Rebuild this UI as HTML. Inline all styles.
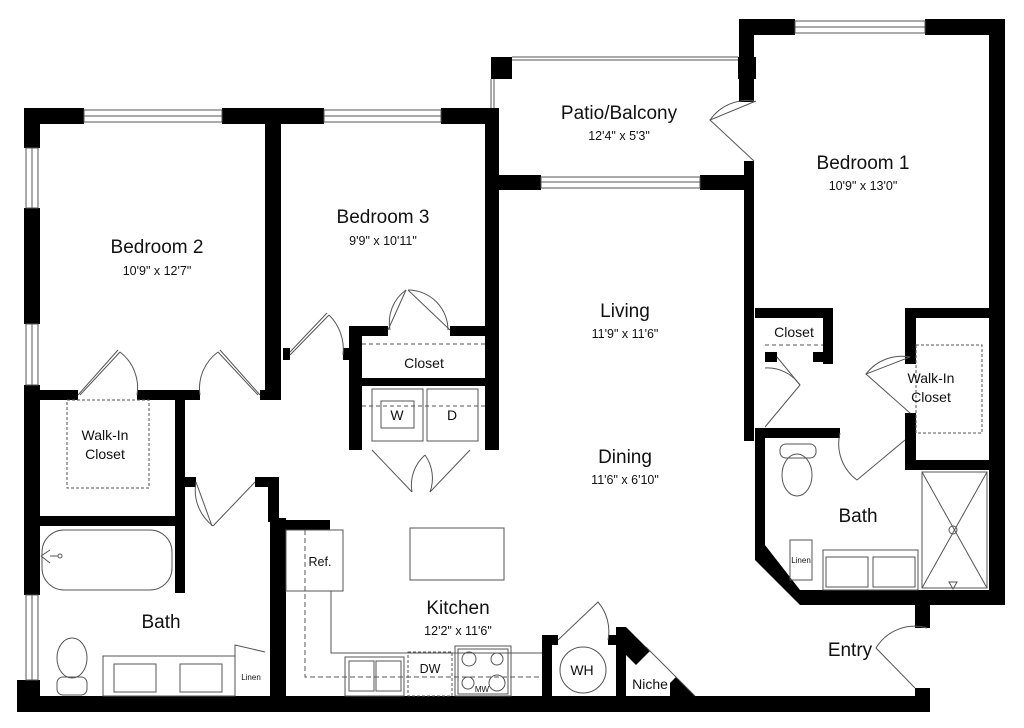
<!DOCTYPE html>
<html><head><meta charset="utf-8"><style>
html,body{margin:0;padding:0;background:#fff;}
svg{display:block;}
text{font-family:"Liberation Sans",sans-serif;fill:#111;text-anchor:middle;}
.t{font-size:19px}.s{font-size:12.5px}.m{font-size:14px}.x{font-size:8px}
</style></head><body>
<svg width="1024" height="728" viewBox="0 0 1024 728" xmlns="http://www.w3.org/2000/svg">
<rect width="1024" height="728" fill="#fff"/>
<g fill="#000">
<rect x="24" y="108" width="60" height="16"/>
<rect x="222" y="108" width="102" height="16"/>
<rect x="441" y="108" width="58" height="16"/>
<rect x="24" y="108" width="16" height="40"/>
<rect x="24" y="208" width="16" height="116"/>
<rect x="24" y="385" width="16" height="210"/>
<rect x="17" y="680" width="23" height="32"/>
<rect x="17" y="696" width="913" height="16"/>
<rect x="265" y="124" width="16" height="276"/>
<rect x="40" y="390" width="38" height="10"/>
<rect x="137" y="390" width="63" height="10"/>
<rect x="260" y="390" width="21" height="10"/>
<rect x="175" y="400" width="10" height="193"/>
<rect x="40" y="516" width="135" height="10"/>
<rect x="185" y="477" width="11" height="10"/>
<rect x="255" y="477" width="24" height="10"/>
<rect x="268" y="477" width="11" height="45"/>
<rect x="270" y="518" width="16" height="180"/>
<rect x="286" y="520" width="44" height="10"/>
<rect x="485" y="108" width="14" height="342"/>
<rect x="349" y="326" width="13" height="124"/>
<rect x="349" y="326" width="39" height="10"/>
<rect x="450" y="326" width="47" height="10"/>
<rect x="362" y="378" width="123" height="8"/>
<rect x="283" y="348" width="7" height="12"/>
<rect x="343" y="348" width="7" height="12"/>
<rect x="491" y="57" width="21" height="22"/>
<rect x="738" y="57" width="18" height="22"/>
<rect x="485" y="175" width="56" height="15"/>
<rect x="700" y="175" width="54" height="15"/>
<rect x="739" y="19" width="15" height="83"/>
<rect x="739" y="19" width="56" height="16"/>
<rect x="925" y="19" width="80" height="16"/>
<rect x="989" y="19" width="16" height="586"/>
<rect x="744" y="161" width="10" height="280"/>
<rect x="755" y="308" width="78" height="10"/>
<rect x="823" y="308" width="10" height="56"/>
<rect x="765" y="352" width="12" height="10"/>
<rect x="813" y="352" width="20" height="10"/>
<rect x="905" y="308" width="100" height="10"/>
<rect x="905" y="308" width="11" height="56"/>
<rect x="905" y="413" width="11" height="57"/>
<rect x="905" y="460" width="100" height="10"/>
<rect x="755" y="428" width="85" height="10"/>
<rect x="755" y="428" width="10" height="120"/>
<polygon points="755,545 765,545 800,590 1005,590 1005,605 800,605 755,560"/>
<rect x="915" y="600" width="15" height="28"/>
<rect x="915" y="688" width="15" height="24"/>
<rect x="542" y="635" width="10" height="62"/>
<rect x="552" y="635" width="6" height="10"/>
<rect x="608" y="635" width="8" height="10"/>
<rect x="616" y="627" width="10" height="70"/>
<polygon points="626,627 650,651 636,665 626,655"/>
<polygon points="676,677 695,696 670,696 670,683"/>
</g>
<g fill="none" stroke="#555" stroke-width="1">
<rect x="84" y="110" width="138" height="12"/><line x1="84" y1="116" x2="222" y2="116"/>
<rect x="324" y="110" width="117" height="12"/><line x1="324" y1="116" x2="441" y2="116"/>
<rect x="26" y="148" width="12" height="60"/><line x1="32" y1="148" x2="32" y2="208"/>
<rect x="26" y="324" width="12" height="61"/><line x1="32" y1="324" x2="32" y2="385"/>
<rect x="26" y="595" width="12" height="85"/><line x1="32" y1="595" x2="32" y2="680"/>
<rect x="541" y="177" width="159" height="11"/><line x1="541" y1="182" x2="700" y2="182"/>
<rect x="795" y="21" width="130" height="12"/><line x1="795" y1="27" x2="925" y2="27"/>
<line x1="512" y1="57" x2="738" y2="57"/><line x1="512" y1="60" x2="738" y2="60"/>
<line x1="491" y1="79" x2="491" y2="108"/><line x1="494" y1="79" x2="494" y2="108"/>
<path d="M80,395 L120,352 M78,395 L118,350"/><path d="M120,352 A45,45 0 0 1 137,395"/>
<path d="M258,395 L218,352 M260,395 L220,350"/><path d="M218,352 A45,45 0 0 0 200,395"/>
<path d="M290,355 L329,315 M290,352 L327,313"/><path d="M329,315 A48,48 0 0 1 343,355"/>
<path d="M388,330 L406,290 M450,330 L408,290"/><path d="M406,290 A40,40 0 0 0 390,330 M408,290 A40,40 0 0 1 448,330"/>
<path d="M372,450 L412,492 M470,450 L430,492"/><path d="M412,492 A40,40 0 0 1 425,455 M430,492 A40,40 0 0 0 425,455"/>
<path d="M196,482 L212,526 M255,482 L213,526"/><path d="M196,482 A45,45 0 0 0 213,526"/>
<path d="M756,101 L710,120 L754,161"/><path d="M754,101 A45,45 0 0 0 710,120"/>
<path d="M777,357 L800,385 L765,427"/><path d="M765,368 A40,40 0 0 1 800,385"/>
<path d="M910,357 L866,374 L910,413"/><path d="M910,357 A45,45 0 0 0 866,374"/>
<path d="M840,433 A45,45 0 0 0 857,480 L905,440"/>
<path d="M927,628 A45,45 0 0 0 876,648 L915,688"/>
<path d="M558,640 L598,602 A45,45 0 0 1 608,640"/>
<line x1="362" y1="344" x2="485" y2="344" stroke-dasharray="4,3"/>
<line x1="765" y1="345" x2="823" y2="345" stroke-dasharray="4,3"/>
<rect x="67" y="400" width="82" height="88" stroke-dasharray="3,2"/>
<rect x="916" y="345" width="66" height="88" stroke-dasharray="3,2"/>
<rect x="372" y="389" width="51" height="52"/><rect x="381" y="401" width="33" height="27"/>
<rect x="427" y="389" width="51" height="52"/>
<line x1="362" y1="406" x2="485" y2="406" stroke-dasharray="4,3"/>
<rect x="42" y="530" width="130" height="60" rx="22"/>
<path d="M41,556 L50,550 M41,556 L50,563 M50,556 L58,556"/><circle cx="60" cy="556" r="2"/>
<ellipse cx="72" cy="658" rx="15" ry="20"/><rect x="57" y="677" width="30" height="18" rx="6"/>
<rect x="103" y="656" width="132" height="40"/>
<rect x="114" y="664" width="42" height="28"/><rect x="180" y="664" width="42" height="28"/>
<path d="M235,696 L235,645 L265,652"/>
<ellipse cx="797" cy="475" rx="15" ry="21"/><rect x="780" y="444" width="36" height="14" rx="6"/>
<rect x="922" y="472" width="65" height="116"/>
<path d="M922,472 L987,588 M987,472 L922,588"/><circle cx="953" cy="530" r="4"/>
<path d="M949,582 L957,582 L953,589 Z"/>
<rect x="823" y="550" width="95" height="40"/>
<rect x="826" y="557" width="42" height="30"/><rect x="873" y="557" width="42" height="30"/>
<rect x="790" y="540" width="22" height="40"/>
<rect x="286" y="530" width="57" height="61"/>
<path d="M331,591 L331,653 L542,653"/>
<path d="M305,530 L305,677 L542,677" stroke-dasharray="5,3"/>
<rect x="410" y="528" width="94" height="52"/>
<rect x="345" y="657" width="59" height="39"/><rect x="349" y="661" width="25" height="30"/><rect x="376" y="661" width="25" height="30"/>
<rect x="408" y="652" width="44" height="44" stroke-dasharray="3,2"/>
<rect x="455" y="646" width="56" height="50"/><rect x="458" y="649" width="50" height="45"/>
<circle cx="469" cy="659" r="7"/><circle cx="497" cy="659" r="6"/><circle cx="468" cy="683" r="6"/><circle cx="497" cy="683" r="8"/>
<circle cx="583" cy="670" r="23"/>
<line x1="646" y1="647" x2="695" y2="696"/>
</g>
<text x="157" y="253" class="t">Bedroom 2</text><text x="157" y="275" class="s">10'9" x 12'7"</text>
<text x="383" y="223" class="t">Bedroom 3</text><text x="383" y="245" class="s">9'9" x 10'11"</text>
<text x="619" y="119" class="t">Patio/Balcony</text><text x="619" y="140" class="s">12'4" x 5'3"</text>
<text x="863" y="169" class="t">Bedroom 1</text><text x="863" y="190" class="s">10'9" x 13'0"</text>
<text x="625" y="317" class="t">Living</text><text x="625" y="338" class="s">11'9" x 11'6"</text>
<text x="625" y="463" class="t">Dining</text><text x="625" y="484" class="s">11'6" x 6'10"</text>
<text x="458" y="614" class="t">Kitchen</text><text x="458" y="635" class="s">12'2" x 11'6"</text>
<text x="161" y="628" class="t">Bath</text><text x="858" y="522" class="t">Bath</text>
<text x="850" y="656" class="t">Entry</text>
<text x="424" y="368" class="m">Closet</text>
<text x="794" y="337" class="m">Closet</text>
<text x="105" y="440" class="m">Walk-In</text><text x="105" y="459" class="m">Closet</text>
<text x="931" y="383" class="m">Walk-In</text><text x="931" y="402" class="m">Closet</text>
<text x="397" y="420" class="m">W</text><text x="452" y="420" class="m">D</text>
<text x="320" y="566" class="s">Ref.</text>
<text x="430" y="673" class="s">DW</text>
<text x="482" y="692" class="x">MW</text>
<text x="582" y="675" class="m">WH</text>
<text x="650" y="689" class="m">Niche</text>
<text x="251" y="680" class="x">Linen</text>
<text x="801" y="563" class="x">Linen</text>
</svg>
</body></html>
